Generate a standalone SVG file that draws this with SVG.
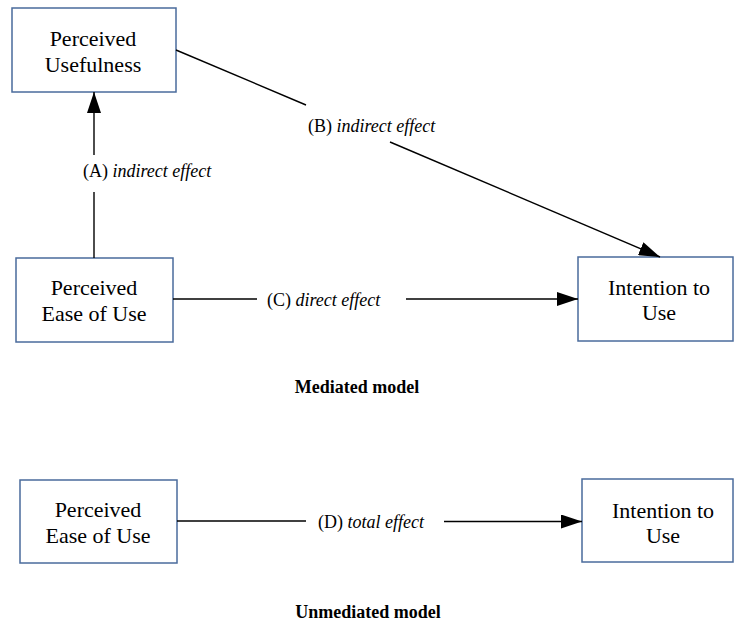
<svg xmlns="http://www.w3.org/2000/svg" width="734" height="626" viewBox="0 0 734 626">
  <style>
    .box { fill: #ffffff; stroke: #4a6b9c; stroke-width: 1.5; }
    text { font-family: 'Liberation Serif', 'Times New Roman', serif; fill: #000; }
    .node-text { font-size: 22px; text-anchor: middle; }
    .label { font-size: 18px; }
    .label .em { font-style: italic; }
    .caption { font-size: 18px; font-weight: bold; text-anchor: middle; }
    .edge { stroke: #000; stroke-width: 1.4; fill: none; }
  </style>
  <defs>
    <marker id="arrow" markerUnits="userSpaceOnUse" markerWidth="22" markerHeight="14" refX="21" refY="7" orient="auto">
      <path d="M0,0 L21,7 L0,14 Z" fill="#000"/>
    </marker>
  </defs>

  <rect width="734" height="626" fill="#ffffff"/>

  <!-- Mediated model: nodes -->
  <g id="pu">
    <rect class="box" x="12" y="8" width="164" height="84"/>
    <text class="node-text" x="93" y="46">Perceived</text>
    <text class="node-text" x="93" y="72">Usefulness</text>
  </g>
  <g id="peou-mediated">
    <rect class="box" x="16" y="258" width="157" height="84"/>
    <text class="node-text" x="94" y="295">Perceived</text>
    <text class="node-text" x="94" y="321">Ease of Use</text>
  </g>
  <g id="itu-mediated">
    <rect class="box" x="578" y="257" width="155" height="84"/>
    <text class="node-text" x="659" y="295">Intention to</text>
    <text class="node-text" x="659" y="320">Use</text>
  </g>

  <!-- Unmediated model: nodes -->
  <g id="peou-unmediated">
    <rect class="box" x="20" y="480" width="157" height="83"/>
    <text class="node-text" x="98" y="517">Perceived</text>
    <text class="node-text" x="98" y="543">Ease of Use</text>
  </g>
  <g id="itu-unmediated">
    <rect class="box" x="582" y="479" width="151" height="83"/>
    <text class="node-text" x="663" y="518">Intention to</text>
    <text class="node-text" x="663" y="543">Use</text>
  </g>

  <!-- Connectors, each broken around its label -->
  <g id="connectors">
    <!-- (A) ease of use -> usefulness -->
    <line class="edge" x1="94" y1="258" x2="94" y2="192"/>
    <line class="edge" x1="94" y1="155" x2="94" y2="92" marker-end="url(#arrow)"/>
    <!-- (B) usefulness -> intention -->
    <line class="edge" x1="176" y1="50" x2="306" y2="105"/>
    <line class="edge" x1="390" y1="142" x2="660" y2="257" marker-end="url(#arrow)"/>
    <!-- (C) ease of use -> intention, direct -->
    <line class="edge" x1="173" y1="299" x2="257" y2="299"/>
    <line class="edge" x1="406" y1="299" x2="578" y2="299" marker-end="url(#arrow)"/>
    <!-- (D) ease of use -> intention, total -->
    <line class="edge" x1="177" y1="521" x2="306" y2="521"/>
    <line class="edge" x1="444" y1="521.5" x2="582" y2="521.5" marker-end="url(#arrow)"/>
  </g>

  <!-- Connector labels -->
  <g id="edge-labels">
    <text class="label" x="83" y="177">(A) <tspan class="em">indirect effect</tspan></text>
    <text class="label" x="308" y="132">(B) <tspan class="em">indirect effect</tspan></text>
    <text class="label" x="267" y="306">(C) <tspan class="em">direct effect</tspan></text>
    <text class="label" x="318" y="528">(D) <tspan class="em">total effect</tspan></text>
  </g>

  <!-- Captions -->
  <text class="caption" x="357" y="393">Mediated model</text>
  <text class="caption" x="368" y="618">Unmediated model</text>
</svg>
